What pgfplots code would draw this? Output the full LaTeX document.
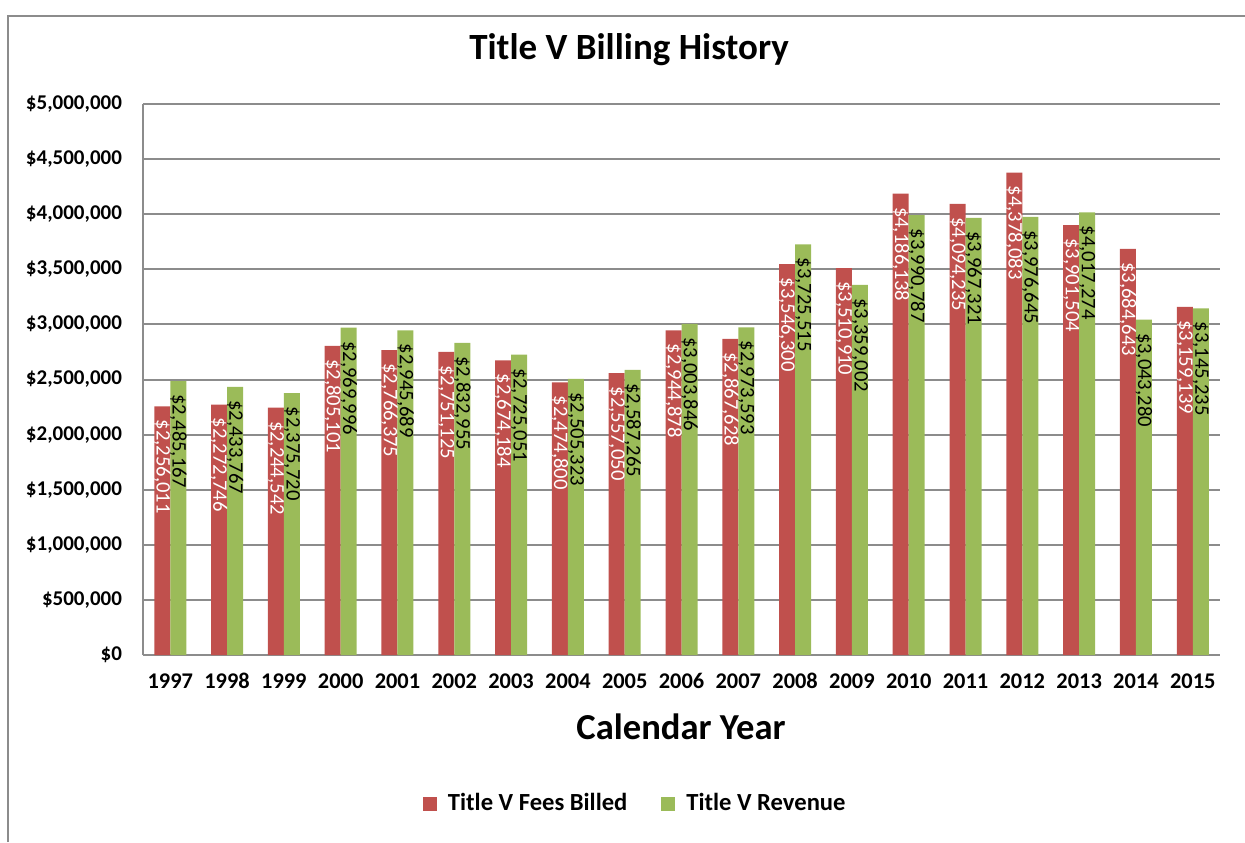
\documentclass[border=0pt]{standalone}
\usepackage{pgfplots}
\pgfplotsset{compat=1.18}
\usepackage{pgfplotstable}
\usepackage{fontspec}
\setmainfont{Carlito}
\definecolor{billed}{HTML}{C0504D}
\definecolor{revenue}{HTML}{9BBB59}
\definecolor{gridc}{HTML}{8C8C8C}

\pgfplotstableread{
x y lab
0 2256011 2,256,011
1 2272746 2,272,746
2 2244542 2,244,542
3 2805101 2,805,101
4 2766375 2,766,375
5 2751125 2,751,125
6 2674184 2,674,184
7 2474800 2,474,800
8 2557050 2,557,050
9 2944878 2,944,878
10 2867628 2,867,628
11 3546300 3,546,300
12 3510910 3,510,910
13 4186138 4,186,138
14 4094235 4,094,235
15 4378083 4,378,083
16 3901504 3,901,504
17 3684643 3,684,643
18 3159139 3,159,139
}\billedtab

\pgfplotstableread{
x y lab
0 2485167 2,485,167
1 2433767 2,433,767
2 2375720 2,375,720
3 2969996 2,969,996
4 2945689 2,945,689
5 2832955 2,832,955
6 2725051 2,725,051
7 2505323 2,505,323
8 2587265 2,587,265
9 3003846 3,003,846
10 2973593 2,973,593
11 3725515 3,725,515
12 3359002 3,359,002
13 3990787 3,990,787
14 3967321 3,967,321
15 3976645 3,976,645
16 4017274 4,017,274
17 3043280 3,043,280
18 3145235 3,145,235
}\revenuetab

\begin{document}
\begin{tikzpicture}
\useasboundingbox (0pt,0pt) rectangle (622.5pt,421pt);
\draw[gridc, line width=0.8pt] (4pt,0pt) -- (4pt,413pt) -- (622.5pt,413pt);
\node[font=\bfseries\fontsize{18.5}{20}\selectfont] at (314.5pt,396pt) {Title V Billing History};
\node[font=\bfseries\fontsize{18.3}{20}\selectfont] at (340.5pt,57.5pt) {Calendar Year};
\begin{axis}[
  at={(71.5pt,93.5pt)}, anchor=south west,
  scale only axis, width=538.5pt, height=275.5pt,
  ybar=0pt, bar width=8pt,
  xmin=-0.48, xmax=18.48, ymin=0, ymax=5000000,
  xtick={0,1,2,3,4,5,6,7,8,9,10,11,12,13,14,15,16,17,18},
  xticklabels={1997,1998,1999,2000,2001,2002,2003,2004,2005,2006,2007,2008,2009,2010,2011,2012,2013,2014,2015},
  ytick={0,500000,1000000,1500000,2000000,2500000,3000000,3500000,4000000,4500000,5000000},
  yticklabels={\$0,\$500{,}000,\$1{,}000{,}000,\$1{,}500{,}000,\$2{,}000{,}000,\$2{,}500{,}000,\$3{,}000{,}000,\$3{,}500{,}000,\$4{,}000{,}000,\$4{,}500{,}000,\$5{,}000{,}000},
  scaled y ticks=false,
  major tick length=0pt,
  axis x line*=bottom, axis y line*=left,
  axis line style={gridc, line width=1pt},
  ymajorgrids, grid style={gridc, line width=1pt},
  yticklabel style={font=\bfseries\fontsize{10.5}{12}\selectfont, xshift=-7pt},
  xticklabel style={font=\bfseries\fontsize{11.2}{12}\selectfont, text height=8pt, text depth=0pt, yshift=-5pt},
  legend style={at={(0.458,-0.27)}, anchor=center, legend columns=2, draw=none,
    font=\bfseries\fontsize{12.3}{14}\selectfont, /tikz/every even column/.append style={column sep=15pt}},
  legend image code/.code={\fill[#1] (0pt,-3.5pt) rectangle (7pt,3.5pt); \path (10.5pt,0pt);},
  point meta=explicit symbolic,
  nodes near coords={\$\pgfplotspointmeta},
]
\addplot[fill=billed, draw=none,
  every node near coord/.append style={rotate=-90, anchor=west, text=white, inner xsep=6.5pt, font=\fontsize{10.3}{11}\selectfont}]
  table[x=x, y=y, meta=lab] {\billedtab};
\addlegendentry{Title V Fees Billed}
\addplot[fill=revenue, draw=none,
  every node near coord/.append style={rotate=-90, anchor=west, text=black, inner xsep=6.5pt, font=\fontsize{10.3}{11}\selectfont}]
  table[x=x, y=y, meta=lab] {\revenuetab};
\addlegendentry{Title V Revenue}
\end{axis}
\end{tikzpicture}
\end{document}
